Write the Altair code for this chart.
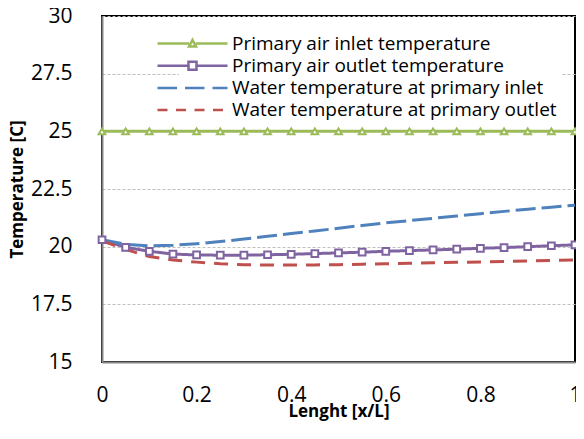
import altair as alt
import pandas as pd

x_vals = [0, 0.05, 0.1, 0.15, 0.2, 0.25, 0.3, 0.35, 0.4, 0.45, 0.5,
          0.55, 0.6, 0.65, 0.7, 0.75, 0.8, 0.85, 0.9, 0.95, 1.0]
air_inlet = [25.0] * 21
air_outlet = [20.3, 19.97, 19.8, 19.68, 19.64, 19.63, 19.63, 19.65, 19.67, 19.7, 19.73,
              19.76, 19.8, 19.83, 19.86, 19.89, 19.93, 19.96, 20.0, 20.04, 20.08]
water_inlet = [20.3, 20.1, 20.03, 20.06, 20.13, 20.22, 20.33, 20.45, 20.57, 20.68, 20.8,
               20.92, 21.03, 21.13, 21.23, 21.33, 21.43, 21.53, 21.62, 21.71, 21.8]
water_outlet = [20.25, 19.88, 19.57, 19.42, 19.33, 19.26, 19.22, 19.2, 19.2, 19.21, 19.22,
                19.24, 19.26, 19.28, 19.3, 19.32, 19.34, 19.36, 19.38, 19.4, 19.42]

series = ["Primary air inlet temperature", "Primary air outlet temperature",
          "Water temperature at primary inlet", "Water temperature at primary outlet"]
colors = ["#9BBB59", "#8064A2", "#4F81BD", "#C0504D"]
dashes = [[1, 0], [1, 0], [20, 6], [14, 9]]
marker_series = series[:2]
marker_shapes = ["triangle-up", "square"]
x_ticks = [0, 0.2, 0.4, 0.6, 0.8, 1]
y_ticks = [15, 17.5, 20, 22.5, 25, 27.5, 30]

# legend glyphs (unit space, scaled by sqrt(size)/2)
legend_paths = [
    "M-7,0H-0.7M0.7,0H7M-0.7,0.6L0,-0.7L0.7,0.6Z",
    "M-7,0H-0.8M0.8,0H7M-0.8,-0.8H0.8V0.8H-0.8Z",
    "M-7,0H-3.1M-1.5,0H2.4M4,0H7",
    "M-7,0H-5M-3.3,0H-1.3M0.4,0H2.4M4.1,0H6.1",
]

rows = []
for name, vals in zip(series, [air_inlet, air_outlet, water_inlet, water_outlet]):
    for xv, yv in zip(x_vals, vals):
        rows.append({"x": xv, "T": yv, "series": name})
df = pd.DataFrame(rows)

xscale = alt.Scale(domain=[0, 1], nice=False)
yscale = alt.Scale(domain=[15, 30], nice=False)

xenc = alt.X("x:Q", scale=xscale,
             axis=alt.Axis(title="Lenght [x/L]", values=x_ticks, labelFlush=False,
                           labelExpr="'' + datum.value", grid=False))
yenc = alt.Y("T:Q", scale=yscale,
             axis=alt.Axis(title="Temperature [C]", values=y_ticks, labelFlush=False,
                           labelExpr="'' + datum.value", grid=True))

lines = alt.Chart(df).mark_line(strokeWidth=3).encode(
    x=xenc, y=yenc,
    color=alt.Color("series:N", scale=alt.Scale(domain=series, range=colors), legend=None),
    strokeDash=alt.StrokeDash("series:N", scale=alt.Scale(domain=series, range=dashes), legend=None),
    detail="series:N",
)

points = alt.Chart(df).transform_filter(
    alt.FieldOneOfPredicate(field="series", oneOf=marker_series)
).mark_point(filled=False, strokeWidth=2, size=45, opacity=1, fill="white", fillOpacity=1).encode(
    x="x:Q", y="T:Q",
    color=alt.Color("series:N", scale=alt.Scale(domain=marker_series, range=colors[:2]), legend=None),
    shape=alt.Shape("series:N", scale=alt.Scale(domain=marker_series, range=marker_shapes), legend=None),
)

legend_layer = alt.Chart(df).transform_filter("false").mark_point(
    filled=False, strokeWidth=2.5, opacity=1
).encode(
    x="x:Q", y="T:Q",
    color=alt.Color("series:N", scale=alt.Scale(domain=series, range=colors),
                    legend=alt.Legend(title=None, orient="none", legendX=77, legendY=14,
                                      symbolSize=100, symbolStrokeWidth=2.5,
                                      labelOffset=30, labelFontSize=19, labelFont="Open Sans",
                                      labelColor="black",
                                      labelLimit=500, rowPadding=2.2, fillColor="white",
                                      padding=4, symbolOpacity=1)),
    shape=alt.Shape("series:N", scale=alt.Scale(domain=series, range=legend_paths)),
)

chart = alt.layer(lines, points, legend_layer).resolve_scale(
    color="independent", shape="independent", strokeDash="independent"
).properties(
    width=473, height=346,
    autosize=alt.AutoSizeParams(type="none"),
    padding={"left": 94, "top": 8, "right": 1, "bottom": 60},
).configure_view(
    stroke="black", strokeWidth=2
).configure_axis(
    domainColor="#868686", domainWidth=2, ticks=False,
    labelFont="Open Sans", labelFontSize=21, labelColor="black",
    titleFont="Open Sans", titleFontSize=17, titleFontWeight="bold", titleColor="black",
    gridColor="#BFBFBF", gridDash=[3, 2], gridWidth=1,
).configure_axisY(titlePadding=4, labelPadding=30).configure_axisX(titlePadding=-2, labelPadding=22)

chart.save("out.html", embed_options={"renderer": "svg", "actions": False})
